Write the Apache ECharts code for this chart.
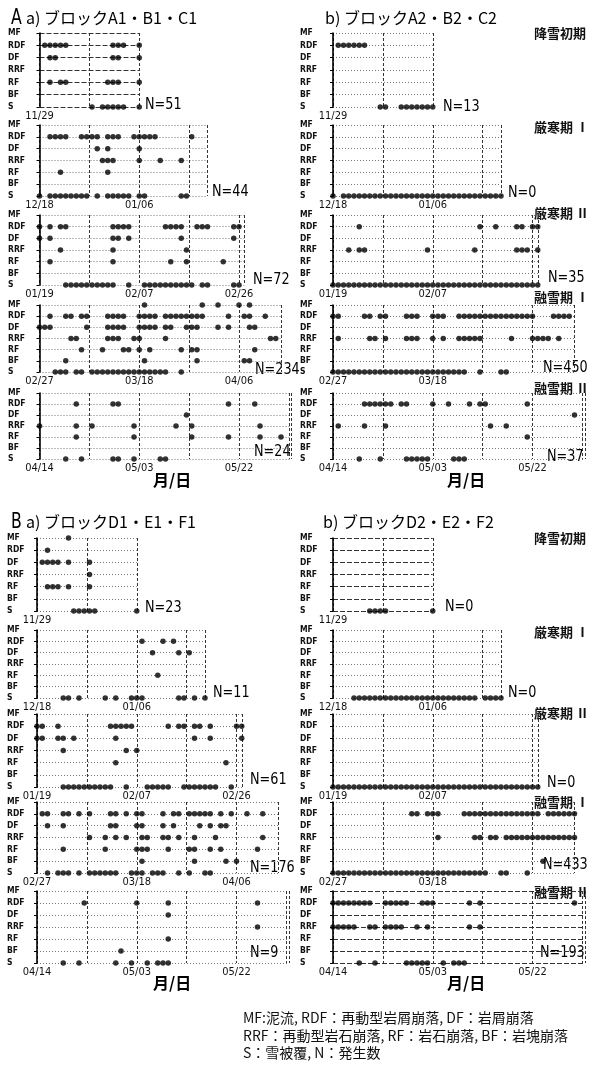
<!DOCTYPE html>
<html>
<head>
<meta charset="utf-8">
<script src="https://cdn.jsdelivr.net/npm/echarts@6/dist/echarts.min.js"></script>
<style>
html,body{margin:0;padding:0;background:#fff}
#c{width:600px;height:1070px}
</style>
</head>
<body>
<div id="c"></div>
<script>
// Event types, top to bottom
const CATS = ['MF', 'RDF', 'DF', 'RRF', 'RF', 'BF', 'S'];

// Period lengths (days) and date tick labels (every 19 days)
const PANEL_DAYS = [19, 32, 39, 46, 48];
const DATES_1 = ['11/29'];
const DATES_2 = ['12/18', '01/06'];
const DATES_3 = ['01/19', '02/07', '02/26'];
const DATES_4 = ['02/27', '03/18', '04/06'];
const DATES_5 = ['04/14', '05/03', '05/22'];
const PERIODS = ['降雪初期', '厳寒期 Ⅰ', '厳寒期 Ⅱ', '融雪期 Ⅰ', '融雪期 Ⅱ'];

// Event counts per period
const N_Aa = [51, 44, 72, 234, 24];
const N_Ab = [13, 0, 35, 450, 37];
const N_Ba = [23, 11, 61, 176, 9];
const N_Bb = [0, 0, 0, 433, 193];

// Days (from period start) with an event, rows in CATS order
const A_a_1 = [
  [],
  [1, 2, 3, 4, 5, 14, 15, 16, 19],
  [2, 3, 14, 15, 19],
  [],
  [2, 4, 5, 13, 14, 15, 19],
  [],
  [10, 12, 13, 14, 15, 16, 19]
];
const A_a_2 = [
  [],
  [2, 3, 4, 5, 8, 9, 10, 11, 13, 14, 15, 18, 19, 20, 21, 22, 29],
  [11, 13, 19],
  [12, 13, 14, 19, 23, 27],
  [4, 13],
  [],
  [0, 2, 3, 4, 5, 6, 7, 8, 9, 11, 13, 14, 15, 16, 17, 19, 20, 27, 28]
];
const A_a_3 = [
  [],
  [0, 2, 4, 5, 14, 15, 16, 17, 24, 25, 26, 27, 30, 31, 32, 37, 38],
  [0, 2, 14, 15, 17, 27, 37],
  [4, 14, 28],
  [2, 14, 25, 28, 35],
  [],
  [5, 6, 7, 8, 9, 10, 11, 12, 13, 14, 17, 20, 21, 22, 23, 24, 25, 26, 27, 28, 29, 31, 32, 37, 38]
];
const A_a_4 = [
  [20, 31, 34, 38, 40],
  [2, 5, 6, 8, 9, 13, 14, 15, 16, 19, 20, 21, 22, 24, 25, 26, 27, 28, 29, 30, 31, 36, 39, 40, 43],
  [0, 1, 2, 9, 13, 14, 15, 16, 19, 20, 21, 22, 24, 25, 28, 29, 30, 34, 36, 40, 41],
  [6, 7, 13, 14, 15, 18, 19, 24, 44, 45],
  [8, 12, 16, 17, 19, 21, 27, 29, 30, 41],
  [5, 20, 30, 39, 40],
  [3, 4, 5, 7, 8, 10, 11, 12, 13, 14, 15, 16, 17, 18, 19, 20, 21, 22, 23, 24, 27]
];
const A_a_5 = [
  [],
  [7, 14, 15, 36, 41],
  [28],
  [0, 7, 10, 18, 26, 29, 42],
  [7, 18, 29, 36, 42, 46],
  [],
  [5, 8, 14, 15, 18, 23, 24]
];

const A_b_1 = [
  [],
  [1, 2, 3, 4, 5, 6],
  [], [], [], [],
  [9, 10, 13, 14, 15, 16, 17, 18, 19]
];
const A_b_2 = [
  [], [], [], [], [], [],
  [0, 2, 3, 4, 5, 6, 7, 8, 9, 10, 11, 12, 13, 14, 15, 16, 17, 18, 19, 20, 21, 22, 23, 24, 25, 26, 27, 28, 29, 30, 31, 32]
];
const A_b_3 = [
  [],
  [5, 28, 31, 35, 36, 38, 39],
  [],
  [3, 5, 6, 18, 27, 35, 36, 37, 39],
  [], [],
  [0, 1, 2, 3, 4, 5, 6, 7, 8, 9, 10, 11, 12, 13, 14, 15, 16, 17, 18, 19, 20, 21, 22, 23, 24, 25, 26, 27, 28, 29, 30, 31, 32, 33, 34, 35, 36, 37, 38, 39]
];
const A_b_4 = [
  [],
  [0, 1, 6, 7, 9, 10, 14, 15, 16, 19, 20, 21, 24, 25, 26, 27, 28, 29, 30, 31, 32, 33, 34, 35, 36, 37, 38, 42, 43, 44, 45],
  [],
  [1, 7, 8, 10, 14, 15, 16, 19, 21, 24, 25, 26, 27, 28, 34, 38, 39, 40, 41, 43],
  [], [],
  [0, 1, 2, 3, 4, 5, 6, 7, 8, 9, 10, 11, 12, 13, 14, 15, 16, 17, 18, 19, 20, 21, 22, 23, 24, 25, 28, 32, 33]
];
const A_b_5 = [
  [],
  [6, 7, 8, 9, 10, 11, 13, 14, 19, 22, 26, 28, 29, 37],
  [46],
  [1, 6, 10, 30, 33],
  [37],
  [],
  [5, 9, 14, 15, 16, 17, 18, 23, 24, 25]
];

const B_a_1 = [
  [6],
  [2],
  [1, 2, 3, 4, 6, 10],
  [10],
  [2, 3, 4, 6, 10],
  [],
  [7, 8, 9, 10, 11, 19]
];
const B_a_2 = [
  [],
  [20, 24, 26],
  [22, 27, 29],
  [],
  [23],
  [],
  [5, 6, 8, 13, 15, 18, 19, 20, 27, 28, 30, 32]
];
const B_a_3 = [
  [],
  [0, 1, 4, 14, 15, 16, 17, 18, 25, 27, 28, 30, 31, 33, 38, 39],
  [0, 1, 4, 5, 7, 15, 30, 33, 39],
  [5, 17, 19],
  [15, 36],
  [],
  [5, 6, 7, 8, 9, 10, 11, 12, 13, 14, 17, 21, 22, 23, 24, 25, 28, 29, 30, 31, 32, 33, 34, 37]
];
const B_a_4 = [
  [],
  [1, 2, 5, 6, 8, 10, 14, 15, 17, 19, 20, 24, 26, 27, 29, 30, 31, 32, 33, 35, 37, 40, 43],
  [2, 5, 14, 15, 19, 20, 24, 26, 31, 33, 35, 36],
  [10, 13, 15, 17, 20, 21, 24, 25, 27, 30, 34, 43],
  [5, 13, 19, 20, 21, 25, 29, 30, 33, 35, 42],
  [20, 30, 36, 38],
  [2, 4, 5, 6, 8, 10, 11, 12, 13, 14, 15, 18, 19, 20, 22, 23, 24, 27, 29, 32, 33]
];
const B_a_5 = [
  [],
  [9, 19, 25, 42],
  [25],
  [42],
  [25],
  [16],
  [5, 8, 15, 18, 21, 23, 24, 25]
];

const B_b_1 = [
  [], [], [], [], [], [],
  [7, 8, 9, 10, 19]
];
const B_b_2 = [
  [], [], [], [], [], [],
  [4, 5, 6, 7, 8, 9, 10, 11, 12, 13, 14, 15, 16, 17, 18, 19, 20, 21, 22, 23, 24, 25, 26, 27, 29, 30, 31, 32]
];
const B_b_3 = [
  [], [], [], [], [], [],
  [0, 1, 2, 3, 4, 5, 6, 7, 8, 9, 10, 11, 12, 13, 14, 15, 16, 17, 18, 19, 20, 21, 22, 23, 24, 25, 26, 27, 28, 29, 30, 31, 32, 33, 34, 35, 36, 37, 38, 39]
];
const B_b_4 = [
  [],
  [15, 16, 18, 19, 20, 25, 26, 27, 28, 29, 30, 31, 32, 33, 34, 35, 36, 37, 38, 39, 41, 42, 43, 44, 45, 46],
  [],
  [20, 27, 28, 30, 31, 33, 34, 35, 36, 37, 38, 39, 40, 41, 42, 43, 44, 45, 46],
  [],
  [40],
  [0, 1, 2, 3, 4, 5, 6, 7, 8, 9, 10, 11, 12, 13, 14, 15, 16, 17, 18, 19, 20, 21, 22, 23, 24, 25, 26, 27, 28, 29, 32, 33, 37]
];
const B_b_5 = [
  [],
  [0, 1, 2, 3, 4, 5, 6, 7, 10, 11, 12, 13, 14, 17, 18, 19, 26, 28, 46],
  [],
  [0, 1, 2, 3, 4, 7, 8, 10, 11, 12, 13, 16, 18, 26, 28],
  [], [],
  [5, 8, 14, 15, 16, 17, 18, 21, 23, 24, 25]
];

// ---- layout ----
const PX_PER_DAY = 5.25;
const ROWS_A = [[33, 107], [125, 196], [215, 285], [305, 372], [393, 459]];
const ROWS_B = [[538, 611], [630, 698], [714, 787], [802, 873], [891, 963]];
const COND = '"DejaVu Sans Condensed","DejaVu Sans",sans-serif';
const SANS = '"DejaVu Sans",sans-serif';
const JP = '"Noto Sans CJK JP","Noto Sans CJK SC",sans-serif';
const DATE_SETS = [DATES_1, DATES_2, DATES_3, DATES_4, DATES_5];

// right-hand panels leave the last date of periods 3 and 4 unlabelled (N= sits there)
const COLUMNS = [
  { left: 39.5, labelX: 8, rows: ROWS_A, panels: [A_a_1, A_a_2, A_a_3, A_a_4, A_a_5], counts: N_Aa,
    nPos: [[145, 105], [212, 192], [253, 280], [255, 370], [254, 452]], bold: [true, false, false, false, false],
    maxLabels: [3, 3, 3, 3, 3] },
  { left: 333, labelX: 300, rows: ROWS_A, panels: [A_b_1, A_b_2, A_b_3, A_b_4, A_b_5], counts: N_Ab,
    nPos: [[443, 107], [508, 193], [548, 278], [543, 368], [547, 457]], bold: [false, false, false, false, false],
    maxLabels: [3, 3, 2, 2, 3] },
  { left: 37, labelX: 7, rows: ROWS_B, panels: [B_a_1, B_a_2, B_a_3, B_a_4, B_a_5], counts: N_Ba,
    nPos: [[145, 608], [213, 693], [250, 780], [250, 868], [250, 953]], bold: [false, false, false, false, false],
    maxLabels: [3, 3, 3, 3, 3] },
  { left: 333, labelX: 300, rows: ROWS_B, panels: [B_b_1, B_b_2, B_b_3, B_b_4, B_b_5], counts: N_Bb,
    nPos: [[445, 607], [508, 693], [547, 783], [543, 865], [540, 953]], bold: [true, false, false, false, true],
    maxLabels: [3, 3, 2, 2, 3] }
];

const grids = [], xAxes = [], yAxes = [], series = [];
const graphics = [];

COLUMNS.forEach(col => {
  col.panels.forEach((rowsData, p) => {
    const gi = grids.length;
    const [top, bottom] = col.rows[p];
    const maxDay = PANEL_DAYS[p];
    const dates = DATE_SETS[p].slice(0, col.maxLabels[p]);
    grids.push({ left: col.left, top: top, width: maxDay * PX_PER_DAY, height: bottom - top, containLabel: false });
    xAxes.push({
      type: 'value', gridIndex: gi, min: 0, max: maxDay, interval: 9.5,
      position: 'bottom',
      axisLine: { show: false }, axisTick: { show: false },
      splitLine: { show: true, lineStyle: { color: '#333', type: [3, 2], width: 1 } },
      axisLabel: {
        show: true, margin: 4, color: '#111', fontSize: 11, fontFamily: COND,
        showMinLabel: true, showMaxLabel: true,
        formatter: v => {
          const i = Math.round(v / 19);
          return Math.abs(v - i * 19) < 0.01 && dates[i] ? dates[i] : '';
        }
      }
    });
    yAxes.push({
      type: 'category', gridIndex: gi, data: CATS, inverse: true, boundaryGap: false,
      axisLine: { show: true, lineStyle: { color: '#000', width: 1.6 } },
      axisTick: { show: true, interval: 0, length: 3, lineStyle: { color: '#000' } },
      axisLabel: {
        show: true, interval: 0, align: 'left', margin: col.left - col.labelX, color: '#111',
        fontSize: 8.5, fontWeight: 'bold', fontFamily: COND
      },
      splitLine: {
        show: true, interval: 0,
        lineStyle: col.bold[p]
          ? { color: '#333', type: [5, 2], width: 1 }
          : { color: '#777', type: [1, 2], width: 1 }
      }
    });
    const pts = [];
    rowsData.forEach((days, r) => days.forEach(d => pts.push([d, r])));
    series.push({
      type: 'scatter', xAxisIndex: gi, yAxisIndex: gi, data: pts,
      symbol: 'circle', symbolSize: 5.5, itemStyle: { color: '#000' }, silent: true
    });
    graphics.push({
      type: 'text', x: col.nPos[p][0], y: col.nPos[p][1], scaleX: 0.8, scaleY: 1,
      style: { text: 'N=' + col.counts[p], font: '16px ' + SANS, fill: '#000', verticalAlign: 'middle' }
    });
  });
});

// Period names on the right
[ROWS_A, ROWS_B].forEach((rows, b) => {
  const ys = b === 0 ? [33, 127, 213, 297, 388] : [538, 632, 713, 802, 892];
  ys.forEach((y, i) => graphics.push({
    type: 'text', x: 534, y: y,
    style: { text: PERIODS[i], font: 'bold 13px ' + JP, fill: '#111', verticalAlign: 'middle' }
  }));
});

// Block titles
const titles = [
  { big: 'A', text: 'a) ブロックA1・B1・C1', x: 11, y: 18 },
  { big: '', text: 'b) ブロックA2・B2・C2', x: 325, y: 18 },
  { big: 'B', text: 'a) ブロックD1・E1・F1', x: 11, y: 522 },
  { big: '', text: 'b) ブロックD2・E2・F2', x: 323, y: 522 }
];
titles.forEach(t => {
  if (t.big) {
    graphics.push({ type: 'text', x: t.x, y: t.y + 1, scaleX: 0.75,
      style: { text: t.big, font: '21px ' + SANS, fill: '#000', verticalAlign: 'middle' } });
    graphics.push({ type: 'text', x: t.x + 15, y: t.y,
      style: { text: t.text, font: '16px ' + JP, fill: '#000', verticalAlign: 'middle' } });
  } else {
    graphics.push({ type: 'text', x: t.x, y: t.y,
      style: { text: t.text, font: '16px ' + JP, fill: '#000', verticalAlign: 'middle' } });
  }
});

// Axis unit labels
[[153, 480], [447, 480], [153, 983], [447, 983]].forEach(([x, y]) => graphics.push({
  type: 'text', x: x, y: y,
  style: { text: '月/日', font: 'bold 16px ' + JP, fill: '#000', verticalAlign: 'middle' }
}));

// Legend of abbreviations
['MF:泥流, RDF：再動型岩屑崩落, DF：岩屑崩落',
 'RRF：再動型岩石崩落, RF：岩石崩落, BF：岩塊崩落',
 'S：雪被覆, N：発生数'].forEach((line, i) => graphics.push({
  type: 'text', x: 243, y: 1018 + i * 17.5,
  style: { text: line, font: '14px ' + JP, fill: '#111', verticalAlign: 'middle' }
}));

const chart = echarts.init(document.getElementById('c'), null, { renderer: 'canvas' });
chart.setOption({
  animation: false,
  backgroundColor: '#fff',
  grid: grids,
  xAxis: xAxes,
  yAxis: yAxes,
  series: series,
  graphic: graphics
});
</script>
</body>
</html>
